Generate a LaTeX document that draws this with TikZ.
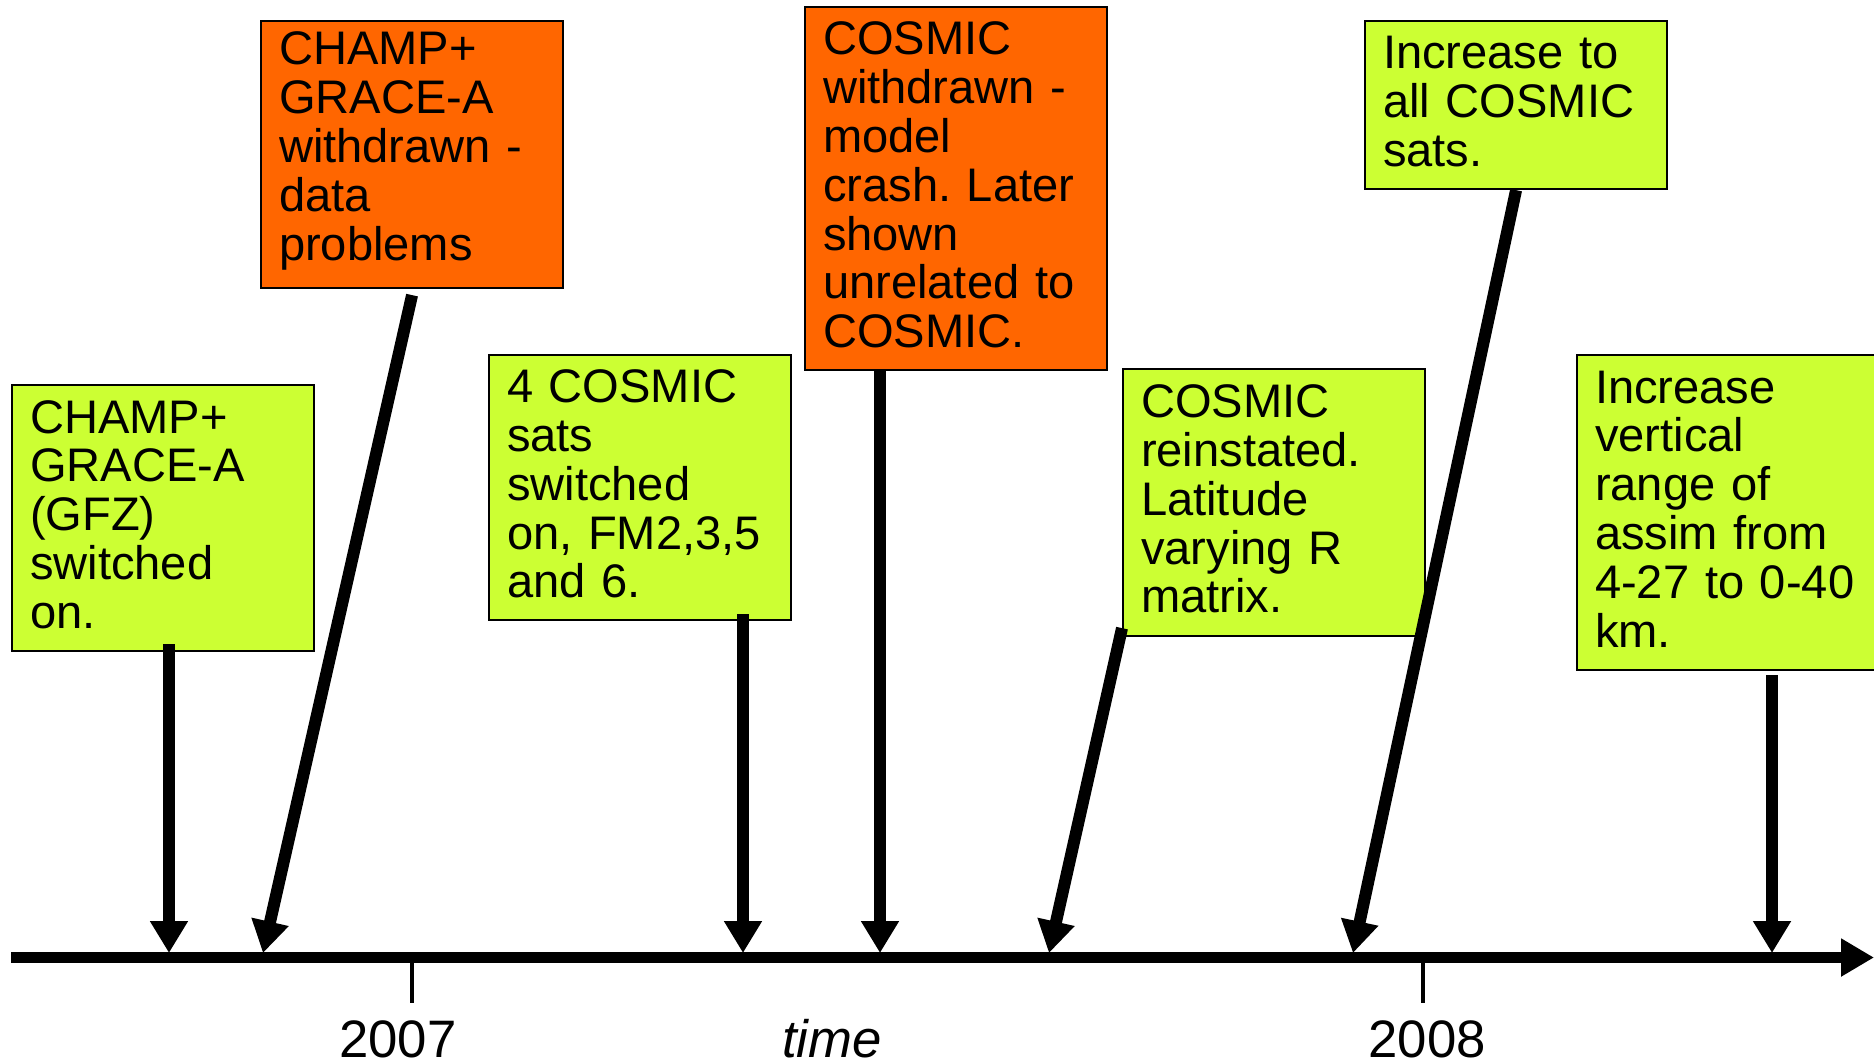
\documentclass[tikz,border=0pt]{standalone}
\usepackage{fontspec}
\setmainfont{Liberation Sans}
\usetikzlibrary{arrows.meta}
\definecolor{notegreen}{RGB}{204,255,51}
\definecolor{noteorange}{RGB}{255,102,0}
\frenchspacing

\begin{document}
\begin{tikzpicture}[
      every node/.style={font=\fontsize{13.4}{13.9}\selectfont},
      note/.style={rectangle, draw=black, line width=0.6pt, anchor=north west, align=left, text width=2.66cm, inner xsep=0.18cm, inner ysep=0pt, execute at end node={\endgraf\vspace{0.07cm}}},
      added/.style={note, fill=notegreen},
      removed/.style={note, fill=noteorange},
      event/.style={line width=0.12cm, -{Triangle[length=0.32cm, width=0.36cm]}},
      timeaxis/.style={line width=0.11cm, -{Triangle[length=0.33cm, width=0.36cm]}},
      yeartick/.style={line width=0.04cm},
      year/.style={font=\fontsize{15}{18}\selectfont, anchor=base}
  ]
    \useasboundingbox (0,0) rectangle (18.74,-10.61);

    \node[added, minimum height=2.66cm] (gfz) at (0.11,-3.84) {CHAMP+\\GRACE-A\\(GFZ)\\switched\\on.};
    \node[removed, minimum height=2.67cm] (withdrawn) at (2.60,-0.20) {CHAMP+\\GRACE-A\\withdrawn -\\data\\problems};
    \node[added, minimum height=2.65cm] (fourSats) at (4.88,-3.54) {4 COSMIC\\sats\\switched\\on, FM2,3,5\\and 6.};
    \node[removed, minimum height=3.63cm] (crash) at (8.04,-0.06) {COSMIC\\withdrawn -\\model\\crash. Later\\shown\\unrelated to\\COSMIC.};
    \node[added, minimum height=2.67cm] (reinstated) at (11.22,-3.68) {COSMIC\\reinstated.\\Latitude\\varying R\\matrix.};
    \node[added, minimum height=1.68cm] (allSats) at (13.64,-0.20) {Increase to\\all COSMIC\\sats.};
    \node[added, minimum height=3.15cm] (vertRange) at (15.76,-3.54) {Increase\\vertical\\range of\\assim from\\4-27 to 0-40\\km.};

    \coordinate (axisStart) at (0.11,-9.575);
    \coordinate (axisEnd) at (18.74,-9.575);
    \draw[timeaxis] (axisStart) -- (axisEnd);

    \foreach \x in {4.12,14.23} {
      \draw[yeartick] (\x,-9.63) -- ++(0,-0.40);
    }
    \node[year] (y2007) at (3.98,-10.57) {2007};
    \node[year] (y2008) at (14.27,-10.57) {2008};
    \node[year, font=\fontsize{15}{18}\selectfont\itshape] (timeLabel) at (8.32,-10.57) {time};

    \coordinate (t1) at (1.69,-9.53);
    \coordinate (t2) at (2.63,-9.53);
    \coordinate (t3) at (7.43,-9.53);
    \coordinate (t4) at (8.80,-9.53);
    \coordinate (t5) at (10.49,-9.53);
    \coordinate (t6) at (13.53,-9.53);
    \coordinate (t7) at (17.72,-9.53);

    \draw[event] ([yshift=0.08cm]t1 |- gfz.south) -- (t1);
    \draw[event] ([yshift=-0.06cm]withdrawn.south) -- (t2);
    \draw[event] ([yshift=0.07cm]t3 |- fourSats.south) -- (t3);
    \draw[event] (t4 |- crash.south) -- (t4);
    \draw[event] ([yshift=0.09cm]reinstated.south west) -- (t5);
    \draw[event] (allSats.south) -- (t6);
    \draw[event] ([yshift=-0.04cm]t7 |- vertRange.south) -- (t7);
  \end{tikzpicture}
\end{document}
